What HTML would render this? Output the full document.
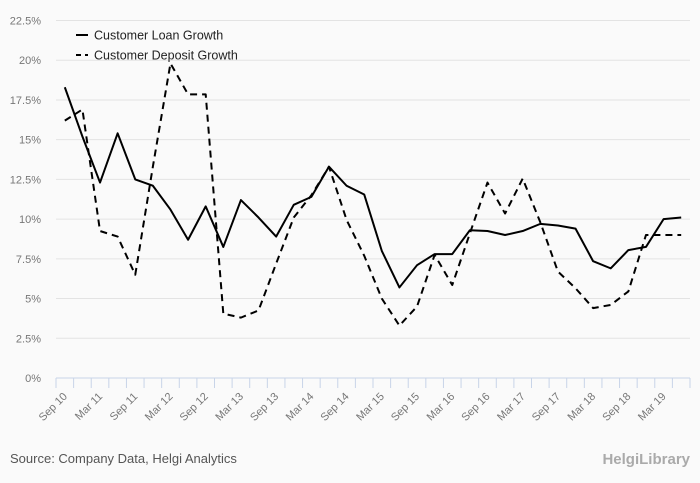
<!DOCTYPE html>
<html><head><meta charset="utf-8"><style>
body{margin:0;background:#fafafa;font-family:"Liberation Sans",sans-serif;}
#wrap{position:relative;width:700px;height:483px;background:#fafafa;overflow:hidden}
</style></head><body>
<div id="wrap">
<svg id="chart" width="700" height="483"></svg>
</div>
<script>
const categories=["Sep 10","Dec 10","Mar 11","Jun 11","Sep 11","Dec 11","Mar 12","Jun 12","Sep 12","Dec 12","Mar 13","Jun 13","Sep 13","Dec 13","Mar 14","Jun 14","Sep 14","Dec 14","Mar 15","Jun 15","Sep 15","Dec 15","Mar 16","Jun 16","Sep 16","Dec 16","Mar 17","Jun 17","Sep 17","Dec 17","Mar 18","Jun 18","Sep 18","Dec 18","Mar 19","Jun 19"];
const loanGrowth=[18.3,15.2,12.3,15.4,12.5,12.1,10.6,8.7,10.8,8.25,11.2,10.1,8.9,10.9,11.4,13.3,12.1,11.55,8.0,5.7,7.1,7.8,7.8,9.3,9.25,9.0,9.25,9.7,9.6,9.4,7.35,6.9,8.05,8.25,10.0,10.1];
const depositGrowth=[16.2,16.9,9.25,8.9,6.5,13.3,19.8,17.85,17.85,4.05,3.8,4.25,7.2,10.1,11.5,13.3,9.95,7.7,5.0,3.3,4.5,7.75,5.85,9.1,12.3,10.35,12.55,9.8,6.7,5.65,4.4,4.6,5.45,9.0,9.0,9.0];
const yTicks=[0,2.5,5,7.5,10,12.5,15,17.5,20,22.5];
const yTickLabels=["0%","2.5%","5%","7.5%","10%","12.5%","15%","17.5%","20%","22.5%"];

const NS="http://www.w3.org/2000/svg";
const svg=document.getElementById('chart');
const X0=56,X1=690,Y0=378,Y1=20.5,YMAX=22.5;
const bw=(X1-X0)/categories.length;
const x=i=>X0+bw*(i+0.5);
const y=v=>Y0-(v/YMAX)*(Y0-Y1);
function mk(t,a){const e=document.createElementNS(NS,t);for(const k in a)e.setAttribute(k,a[k]);svg.appendChild(e);return e;}

yTicks.forEach((v,i)=>{
  const g=mk('line',{x1:X0,x2:X1,y1:y(v),y2:y(v),stroke:i===0?'#c8d4e8':'#e3e3e3','stroke-width':1});
  
  
  const t=mk('text',{x:41,y:y(v)+4,'text-anchor':'end','font-size':11,fill:'#777'});
  t.textContent=yTickLabels[i];
  
  
});
for(let i=0;i<=categories.length;i++){
  const tk=mk('line',{x1:X0+bw*i,x2:X0+bw*i,y1:Y0,y2:Y0+10,stroke:'#c8d4e8'});
  
  
}
categories.forEach((c,i)=>{
  if(i%2)return;
  const t=mk('text',{x:x(i)+3,y:Y0+19,'text-anchor':'end','font-size':11,fill:'#777',transform:`rotate(-45 ${x(i)+3} ${Y0+19})`});
  t.textContent=c;
  
  
});
function line(vals,dash,name){
  const p=mk('polyline',{points:vals.map((v,i)=>x(i)+','+y(v)).join(' '),fill:'none',stroke:'#000','stroke-width':2,'stroke-dasharray':dash||'none','stroke-linejoin':'round'});
  
  
}
line(loanGrowth,null,'loan-growth-line');
line(depositGrowth,'7,5','deposit-growth-line');

const lg=[['Customer Loan Growth',null,35],['Customer Deposit Growth','5,4',55]];
lg.forEach((l,i)=>{
  const s=mk('line',{x1:76,x2:88,y1:l[2],y2:l[2],stroke:'#000','stroke-width':2,'stroke-dasharray':l[1]||'none'});
  
  
  const t=mk('text',{x:94,y:l[2]+4.5,'font-size':12.5,fill:'#222'});
  t.textContent=l[0];
  
  
});
const src=mk('text',{x:10,y:463,'font-size':13,fill:'#555'});
src.textContent='Source: Company Data, Helgi Analytics';


const logo=mk('text',{x:690,y:464,'text-anchor':'end','font-size':15,fill:'#aaa','font-weight':'bold'});
logo.textContent='HelgiLibrary';


</script>
</body></html>
